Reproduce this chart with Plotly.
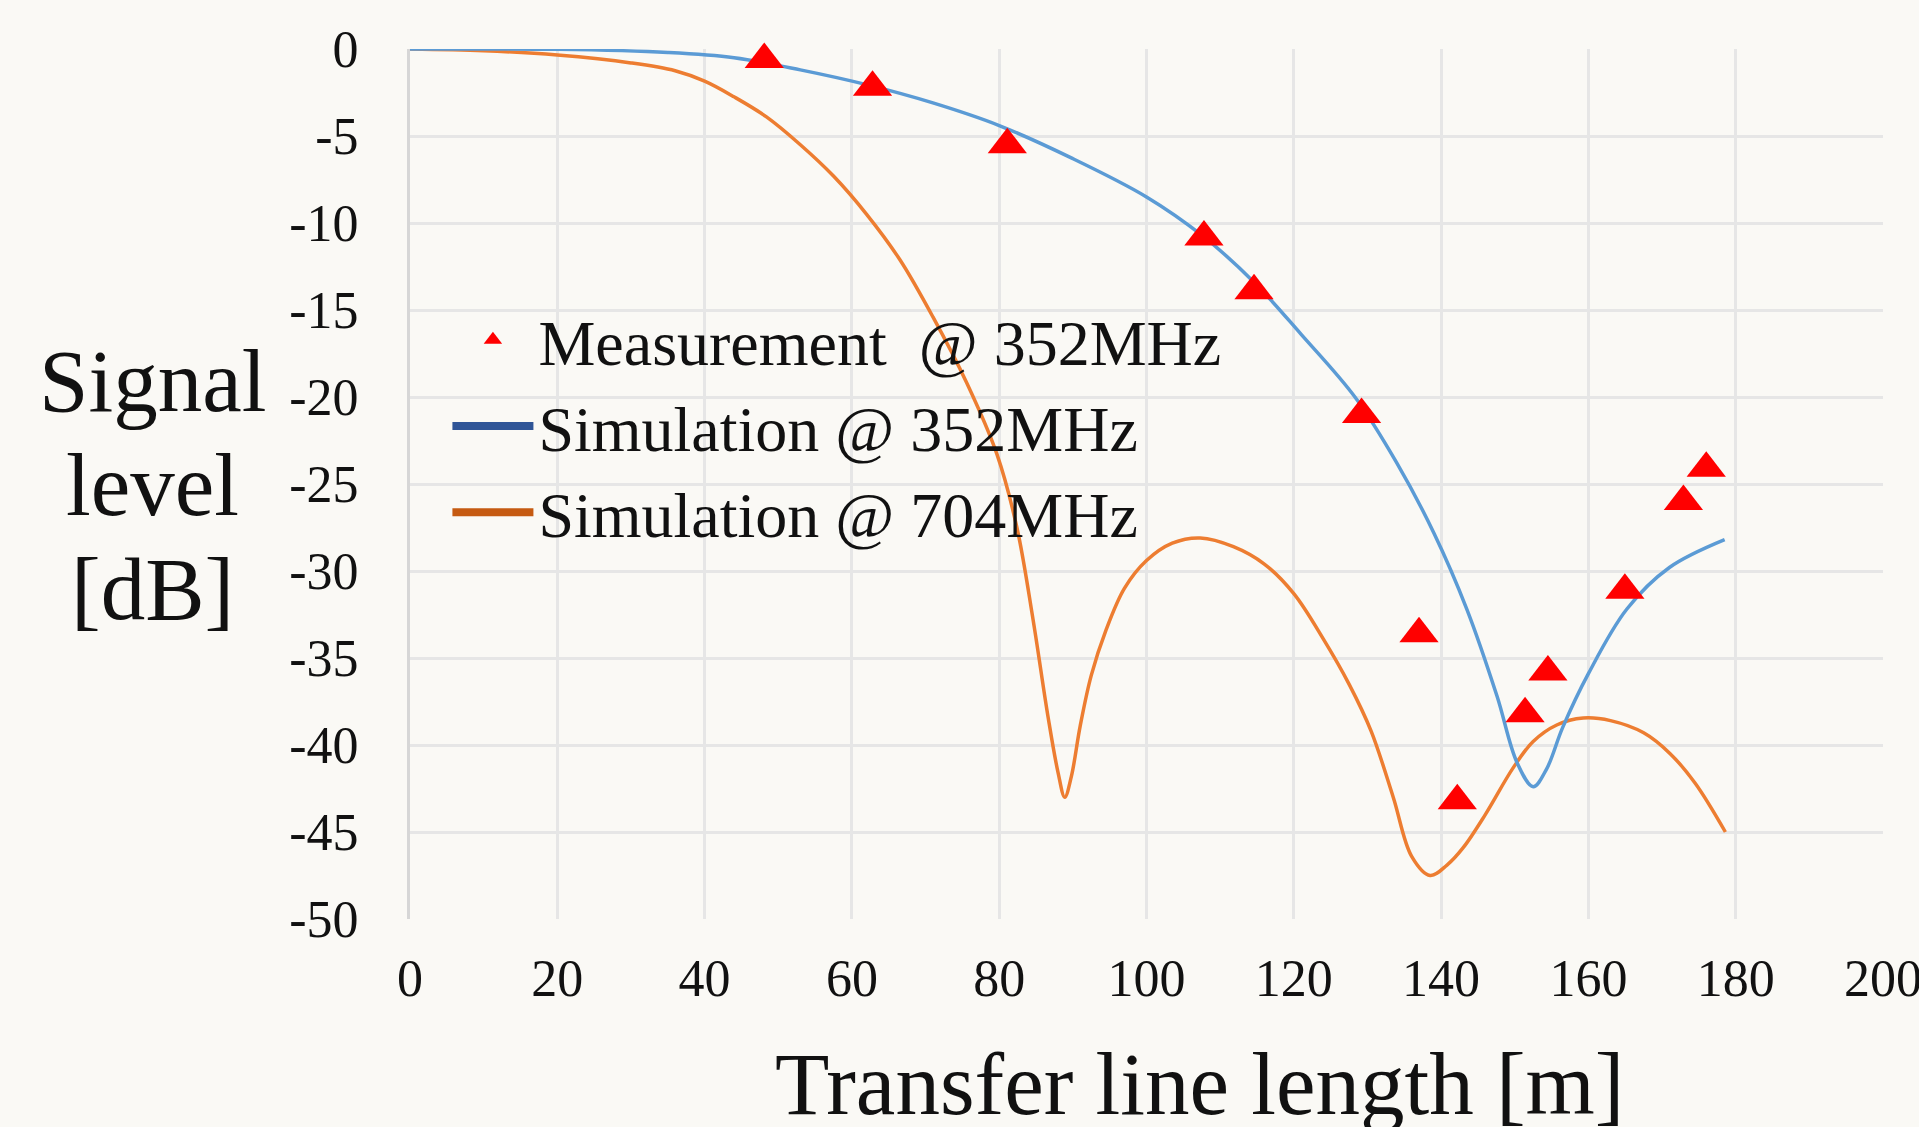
import plotly.graph_objects as go

# ---------------- data ----------------
meas_x = [48.1, 62.8, 81.1, 107.8, 114.6, 129.2, 137.0, 142.2, 151.4, 154.5, 164.95, 172.9, 176.0]
meas_y = [-0.6, -2.2, -5.5, -10.8, -13.9, -21.0, -33.6, -43.2, -38.2, -35.8, -31.1, -26.0, -24.1]

sim352_x = [0, 20, 35, 44, 53, 62, 71, 80, 90, 100, 107.5, 114.6, 121, 128.3, 134, 139, 143.5,
            147.6, 150.3, 152.5, 154.3, 156.5, 160, 165.2, 171, 178.5]
sim352_y = [0, -0.02, -0.2, -0.5, -1.2, -2.05, -3.1, -4.4, -6.3, -8.5, -10.7, -13.4, -16.4, -20.0,
            -23.8, -27.8, -32.2, -37.2, -41.0, -42.4, -41.4, -39.0, -35.9, -32.2, -29.8, -28.2]

sim704_x = [0, 10, 20, 30, 36, 40, 44, 48.4, 53, 57.5, 62, 66.5, 71, 75.6, 79.7, 82.4, 84.6, 86.6,
            88, 88.9, 89.8, 91, 92.5, 94.5, 97, 100, 103.5, 107.3, 111.8, 116, 120, 124, 127.5, 130.5,
            133.5, 136, 138.5, 140.8, 143, 146, 149.8, 152.5, 155.7, 159.3, 163, 167.5, 171.1, 174.5,
            178.6]
sim704_y = [0, -0.1, -0.35, -0.8, -1.25, -1.85, -2.75, -3.9, -5.5, -7.3, -9.5, -12.1, -15.4, -19.2,
            -23.3, -27.5, -32.8, -38.3, -41.6, -43.0, -41.8, -38.9, -36.0, -33.4, -31.0, -29.4, -28.4,
            -28.1, -28.6, -29.6, -31.3, -33.9, -36.5, -39.2, -43.0, -46.4, -47.5, -46.9, -45.9, -44.0,
            -41.3, -39.8, -38.85, -38.45, -38.6, -39.3, -40.5, -42.2, -45.0]

x_ticks = [0, 20, 40, 60, 80, 100, 120, 140, 160, 180, 200]
y_ticks = [0, -5, -10, -15, -20, -25, -30, -35, -40, -45, -50]

names = ["Measurement\u00a0 @ 352MHz", "Simulation @ 352MHz", "Simulation @ 704MHz"]
y_title_lines = ["Signal", "level", "[dB]"]
x_title = "Transfer line length [m]"

BG = "#FAF9F5"
FONT = "Liberation Serif"

fig = go.Figure()

fig.add_trace(go.Scatter(x=sim704_x, y=sim704_y, mode="lines",
                         line=dict(color="#ED7D31", width=3.5, shape="spline", smoothing=1.0),
                         showlegend=False, hoverinfo="skip"))
fig.add_trace(go.Scatter(x=sim352_x, y=sim352_y, mode="lines",
                         line=dict(color="#5B9BD5", width=3.5, shape="spline", smoothing=1.0),
                         showlegend=False, hoverinfo="skip"))
fig.add_trace(go.Scatter(x=meas_x, y=meas_y, mode="markers", name=names[0],
                         marker=dict(symbol="triangle-up", size=34, color="#FF0000"),
                         cliponaxis=False, legendrank=1))
# legend entries (darker legend keys as in the original)
fig.add_trace(go.Scatter(x=[None], y=[None], mode="lines", name=names[1],
                         line=dict(color="#2F5597", width=8), legendrank=2))
fig.add_trace(go.Scatter(x=[None], y=[None], mode="lines", name=names[2],
                         line=dict(color="#C55A11", width=8), legendrank=3))

axis_common = dict(
    showgrid=True, gridcolor="#E6E6E6", gridwidth=3,
    zeroline=False, ticks="", automargin=False,
    tickfont=dict(family=FONT, size=52, color="#111111"),
)

fig.update_xaxes(range=[0, 200], tickvals=x_ticks, ticktext=[str(v) for v in x_ticks],
                 showline=False, ticklabelstandoff=24, ticklabeloverflow="allow", **axis_common)
fig.update_yaxes(range=[-50, 0], tickvals=y_ticks, ticktext=[str(v) for v in y_ticks],
                 showline=True, linecolor="#D6D6D6", linewidth=3, ticklabelstandoff=38,
                 **axis_common)

title_font = dict(family=FONT, size=89, color="#111111")
annotations = [
    dict(text=txt, xref="paper", yref="paper", x=-0.175, y=yy,
         xanchor="center", yanchor="middle", showarrow=False, font=title_font)
    for txt, yy in zip(y_title_lines, [0.618, 0.499, 0.379])
]
annotations.append(dict(text=x_title, xref="paper", yref="paper", x=0.536, y=-0.190,
                        xanchor="center", yanchor="middle", showarrow=False, font=title_font))

fig.update_layout(
    width=1919, height=1127,
    margin=dict(l=410, r=36, t=49, b=208),
    paper_bgcolor=BG, plot_bgcolor=BG,
    font=dict(family=FONT, color="#111111"),
    legend=dict(x=0.0254, y=0.721, xanchor="left", yanchor="top",
                bgcolor="rgba(0,0,0,0)", font=dict(family=FONT, size=64, color="#111111"),
                itemwidth=81, tracegroupgap=0, traceorder="normal"),
    annotations=annotations,
)

fig.write_html("out.html", config={"displayModeBar": False},
               post_script="document.body.style.margin='0px';"
                           "document.documentElement.style.overflow='hidden';")
